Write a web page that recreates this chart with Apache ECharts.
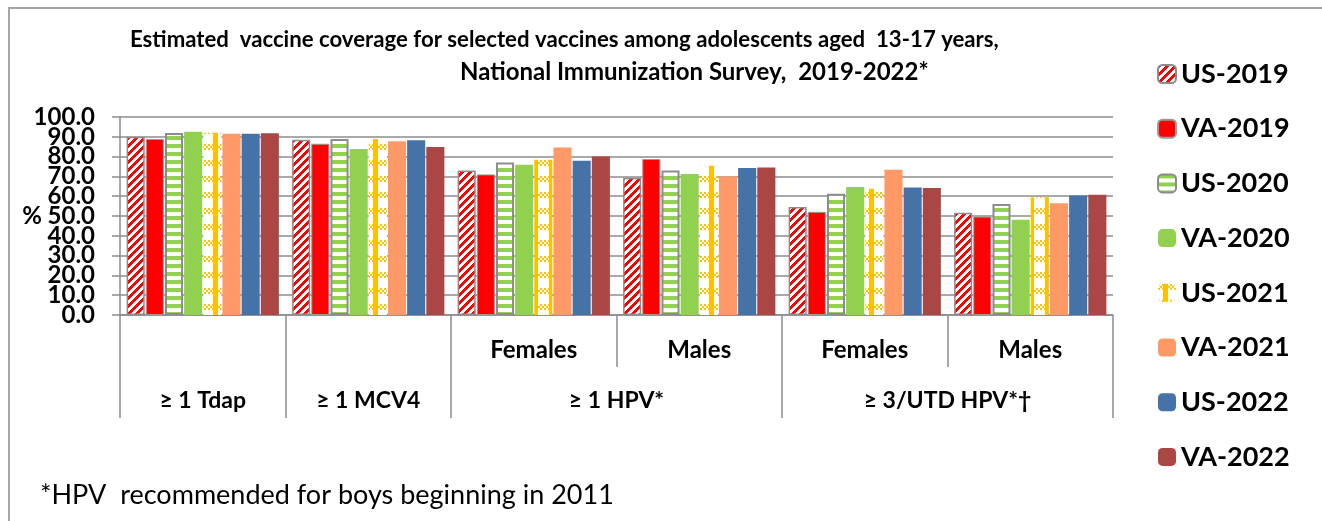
<!DOCTYPE html>
<html>
<head>
<meta charset="utf-8">
<script src="https://cdn.jsdelivr.net/npm/echarts@6/dist/echarts.min.js"></script>
<style>html,body{margin:0;padding:0;background:#fff;}#chart{width:1322px;height:521px;}</style>
</head>
<body>
<div id="chart"></div>
<script>
// ---- data ----
const subCategories = ['', '', 'Females', 'Males', 'Females', 'Males'];
const topGroups = ['≥ 1 Tdap', '≥ 1 MCV4', '≥ 1 HPV*', '≥ 3/UTD HPV*†'];
const topSpans = [1, 1, 2, 2];
const yTicks = [0, 10, 20, 30, 40, 50, 60, 70, 80, 90, 100];
const seriesNames = ['US-2019', 'VA-2019', 'US-2020', 'VA-2020', 'US-2021', 'VA-2021', 'US-2022', 'VA-2022'];
const us2019 = [90.0, 88.5, 73.0, 69.3, 54.5, 51.6];
const va2019 = [88.9, 86.5, 71.0, 78.8, 52.1, 49.7];
const us2020 = [91.9, 88.9, 77.0, 73.0, 61.2, 56.0];
const va2020 = [92.6, 83.8, 75.9, 71.2, 64.6, 48.1];
const us2021 = [92.1, 88.9, 78.4, 75.4, 63.7, 59.5];
const va2021 = [91.6, 87.7, 84.6, 70.0, 73.3, 56.5];
const us2022 = [91.6, 88.2, 77.9, 74.2, 64.4, 60.3];
const va2022 = [91.8, 84.8, 80.1, 74.5, 64.1, 60.7];
const seriesData = [us2019, va2019, us2020, va2020, us2021, va2021, us2022, va2022];

// ---- patterns ----
function makePattern(w, h, fn) {
  const c = document.createElement('canvas');
  c.width = w; c.height = h;
  const ctx = c.getContext('2d');
  const img = ctx.createImageData(w, h);
  for (let y = 0; y < h; y++) for (let x = 0; x < w; x++) {
    const col = fn(x, y);
    const i = (y * w + x) * 4;
    img.data[i] = col[0]; img.data[i + 1] = col[1]; img.data[i + 2] = col[2]; img.data[i + 3] = 255;
  }
  ctx.putImageData(img, 0, 0);
  return { image: c, repeat: 'repeat' };
}
const WHITE = [255, 255, 255], RED = [255, 0, 0], GREEN = [146, 208, 80], YEL = [255, 192, 0];
const diagRed = makePattern(8, 8, (x, y) => ((x + y) % 8) < 4 ? RED : WHITE);
const horizGreen = makePattern(8, 8, (x, y) => (y % 8) < 4 ? GREEN : WHITE);
const plaidYellow = makePattern(16, 16, (x, y) => {
  if (x >= 5 && x < 10) return YEL;
  if (y < 6) return ((Math.floor(x / 2) + Math.floor(y / 2)) % 2 === 0) ? YEL : WHITE;
  return WHITE;
});

const styles = [
  { color: diagRed, borderColor: '#8c8c8c', borderWidth: 1.5 },
  { color: '#FF0000', borderColor: '#9a9a9a', borderWidth: 1 },
  { color: horizGreen, borderColor: '#8c8c8c', borderWidth: 2 },
  { color: '#92D050' },
  { color: plaidYellow },
  { color: '#FF9966' },
  { color: '#4572A7' },
  { color: '#AA4643' }
];

// top-level label positions from spans
const topCenters = {};
const topBounds = [0];
let acc = 0;
topSpans.forEach((s, i) => { topCenters[acc + s / 2] = topGroups[i]; acc += s; topBounds.push(acc); });
// y labels split into two interleaved sets (so they never collide within one axis)
const yEven = yTicks.filter((v, i) => i % 2 === 0);
const yOdd = yTicks.filter((v, i) => i % 2 === 1);

const chart = echarts.init(document.getElementById('chart'));
const FONT = 'Lato';
const yLabel = { margin: 25, fontFamily: FONT, fontWeight: 'bold', fontSize: 24, color: '#000', formatter: v => v.toFixed(1) };
chart.setOption({
  animation: false,
  backgroundColor: '#fff',
  title: [
    {
      text: 'Estimated  vaccine coverage for selected vaccines among adolescents aged  13-17 years,',
      left: 130, top: 27, padding: 0,
      textStyle: { fontFamily: FONT, fontWeight: 'bold', fontSize: 22.2, lineHeight: 26, color: '#000' }
    },
    {
      text: 'National Immunization Survey,  2019-2022*',
      left: 460, top: 59, padding: 0,
      textStyle: { fontFamily: FONT, fontWeight: 'bold', fontSize: 24, lineHeight: 26, color: '#000' }
    },
    {
      text: '*HPV  recommended for boys beginning in 2011',
      left: 40, top: 480, padding: 0,
      textStyle: { fontFamily: FONT, fontWeight: 'normal', fontSize: 27, lineHeight: 30, color: '#000' }
    }
  ],
  graphic: [{
    type: 'polyline', silent: true,
    shape: { points: [[9, 521], [9, 8], [1322, 8]] },
    style: { stroke: '#a6a6a6', lineWidth: 2, fill: null }
  }],
  legend: {
    orient: 'vertical', left: 1157, top: 59, padding: 0,
    itemWidth: 18, itemHeight: 18, itemGap: 24.7,
    textStyle: { fontFamily: FONT, fontWeight: 'bold', fontSize: 27, lineHeight: 30, color: '#000' },
    data: seriesNames
  },
  grid: { left: 120, right: 209, top: 117, bottom: 206, containLabel: false },
  xAxis: [
    {
      type: 'category', data: subCategories, position: 'bottom', offset: 0,
      axisLine: { show: true, lineStyle: { color: '#8c8c8c', width: 1.5 } },
      axisTick: { show: true, inside: false, length: 52, lineStyle: { color: '#8c8c8c', width: 1.5 } },
      axisLabel: { margin: 23, interval: 0, fontFamily: FONT, fontWeight: 'bold', fontSize: 24, color: '#000' },
      splitLine: { show: false }
    },
    {
      type: 'value', min: 0, max: topBounds[topBounds.length - 1], position: 'bottom', offset: 0,
      axisLine: { show: false },
      axisTick: { show: true, length: 103, customValues: topBounds, lineStyle: { color: '#8c8c8c', width: 1.5 } },
      axisLabel: {
        show: true, margin: 74, customValues: Object.keys(topCenters).map(Number),
        formatter: v => topCenters[v] || '',
        fontFamily: FONT, fontWeight: 'bold', fontSize: 23, color: '#000'
      },
      splitLine: { show: false }
    }
  ],
  yAxis: [
    {
      type: 'value', min: yTicks[0], max: yTicks[yTicks.length - 1], interval: 10, position: 'left', offset: 0,
      name: '%', nameLocation: 'middle', nameRotate: 0, nameGap: 78, nameMoveOverlap: false,
      nameTextStyle: { fontFamily: FONT, fontWeight: 'bold', fontSize: 24, color: '#000', padding: [12, 0, 0, 0] },
      axisLine: { show: true, lineStyle: { color: '#8c8c8c', width: 1.5 } },
      axisTick: { show: true, length: 8, lineStyle: { color: '#8c8c8c', width: 1.5 } },
      axisLabel: Object.assign({ customValues: yEven }, yLabel),
      splitLine: { show: true, lineStyle: { color: '#8c8c8c', width: 1.5 } }
    },
    {
      type: 'value', min: yTicks[0], max: yTicks[yTicks.length - 1], interval: 10, position: 'left', offset: 0,
      axisLine: { show: false }, axisTick: { show: false }, splitLine: { show: false },
      axisLabel: Object.assign({ customValues: yOdd }, yLabel)
    }
  ],
  series: seriesNames.map((name, i) => ({
    name, type: 'bar', xAxisIndex: 0, yAxisIndex: 0, data: seriesData[i],
    barGap: '6%', barCategoryGap: '8%',
    itemStyle: styles[i]
  }))
});
</script>
</body>
</html>
